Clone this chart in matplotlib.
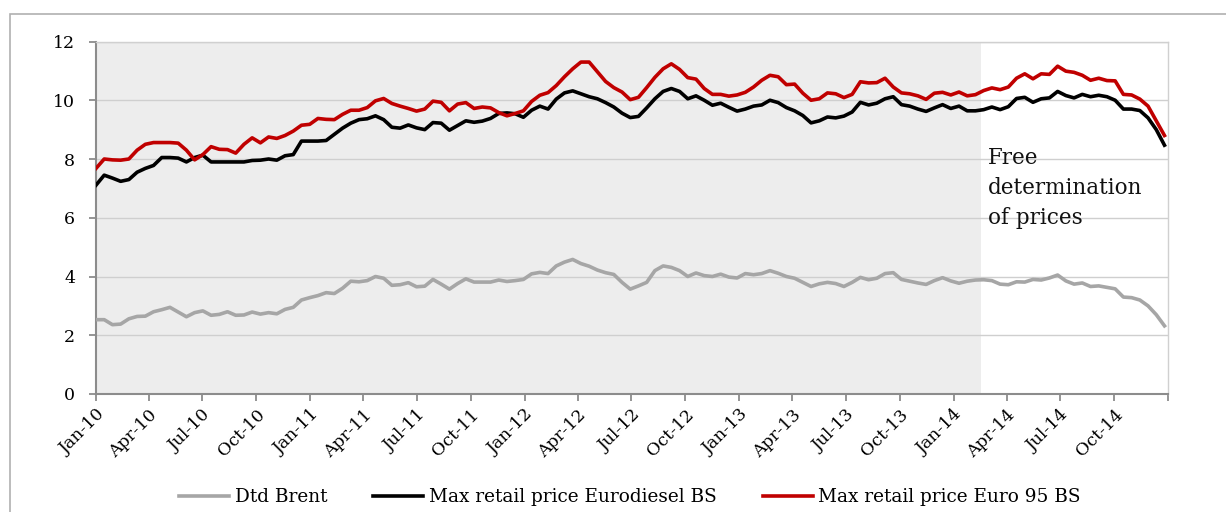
import matplotlib
matplotlib.use("Agg")
import matplotlib.pyplot as plt
from matplotlib.patches import Rectangle
import pandas as pd

# ---------------- data (bi-weekly observations) ----------------
start_date = "2010-01-01"
step = "14D"

brent = [2.53, 2.53, 2.36, 2.38, 2.56, 2.64, 2.65, 2.80, 2.87, 2.95,
         2.79, 2.63, 2.77, 2.83, 2.68, 2.71, 2.80, 2.68, 2.69, 2.79,
         2.72, 2.77, 2.73, 2.88, 2.95, 3.20, 3.28, 3.35, 3.45, 3.42,
         3.60, 3.84, 3.82, 3.86, 4.00, 3.94, 3.70, 3.72, 3.79, 3.65,
         3.67, 3.90, 3.74, 3.57, 3.76, 3.92, 3.81, 3.81, 3.81, 3.88,
         3.83, 3.86, 3.90, 4.09, 4.14, 4.10, 4.36, 4.49, 4.58, 4.44,
         4.35, 4.22, 4.13, 4.07, 3.80, 3.57, 3.68, 3.80, 4.20, 4.36,
         4.31, 4.20, 4.00, 4.12, 4.03, 4.00, 4.08, 3.98, 3.95, 4.10,
         4.06, 4.10, 4.20, 4.11, 4.00, 3.94, 3.80, 3.66, 3.75, 3.80,
         3.76, 3.66, 3.80, 3.97, 3.89, 3.94, 4.10, 4.13, 3.90, 3.84,
         3.78, 3.73, 3.86, 3.96, 3.85, 3.77, 3.84, 3.88, 3.89, 3.86,
         3.74, 3.72, 3.82, 3.81, 3.90, 3.88, 3.95, 4.05, 3.85, 3.74,
         3.78, 3.66, 3.68, 3.63, 3.58, 3.30, 3.28, 3.20, 3.00, 2.70,
         2.32]

diesel = [7.11, 7.45, 7.35, 7.24, 7.30, 7.55, 7.68, 7.78, 8.05, 8.05,
          8.03, 7.90, 8.05, 8.13, 7.90, 7.90, 7.90, 7.90, 7.90, 7.95,
          7.96, 8.00, 7.96, 8.11, 8.15, 8.61, 8.61, 8.61, 8.63, 8.84,
          9.05, 9.22, 9.34, 9.37, 9.47, 9.34, 9.08, 9.05, 9.16, 9.06,
          9.00, 9.24, 9.22, 8.98, 9.14, 9.30, 9.25, 9.29, 9.38, 9.55,
          9.57, 9.54, 9.42, 9.66, 9.80, 9.70, 10.04, 10.25, 10.32, 10.22,
          10.12, 10.05, 9.92, 9.77, 9.56, 9.41, 9.45, 9.74, 10.05, 10.30,
          10.40, 10.30, 10.05, 10.15, 10.00, 9.83, 9.90, 9.76, 9.63, 9.70,
          9.80, 9.84, 10.00, 9.92, 9.75, 9.64, 9.48, 9.23, 9.30, 9.43,
          9.40, 9.46, 9.60, 9.93, 9.84, 9.90, 10.05, 10.12, 9.85, 9.80,
          9.70, 9.62, 9.74, 9.85, 9.72, 9.80, 9.64, 9.64, 9.68, 9.77,
          9.68, 9.78, 10.06, 10.10, 9.93, 10.05, 10.08, 10.30, 10.16, 10.08,
          10.20, 10.12, 10.17, 10.12, 10.00, 9.70, 9.70, 9.65, 9.40, 9.00,
          8.47]

euro95 = [7.68, 8.00, 7.97, 7.96, 8.00, 8.30, 8.50, 8.56, 8.56, 8.56,
          8.54, 8.30, 7.97, 8.15, 8.42, 8.33, 8.32, 8.20, 8.50, 8.72,
          8.55, 8.75, 8.70, 8.80, 8.95, 9.15, 9.18, 9.38, 9.35, 9.34,
          9.52, 9.66, 9.66, 9.75, 9.98, 10.06, 9.89, 9.80, 9.72, 9.63,
          9.70, 9.97, 9.93, 9.64, 9.87, 9.92, 9.72, 9.77, 9.74, 9.58,
          9.47, 9.55, 9.64, 9.96, 10.17, 10.26, 10.50, 10.80, 11.07, 11.30,
          11.30, 10.97, 10.64, 10.43, 10.28, 10.02, 10.10, 10.43, 10.78, 11.07,
          11.24, 11.05, 10.77, 10.72, 10.40, 10.20, 10.20, 10.14, 10.18, 10.27,
          10.45, 10.68, 10.85, 10.80, 10.53, 10.55, 10.24, 10.00, 10.05, 10.25,
          10.22, 10.09, 10.20, 10.63, 10.59, 10.60, 10.75, 10.45, 10.25, 10.22,
          10.15, 10.03, 10.24, 10.27, 10.18, 10.28, 10.15, 10.19, 10.33, 10.42,
          10.36, 10.45, 10.75, 10.90, 10.73, 10.90, 10.88, 11.16, 10.99, 10.95,
          10.85, 10.68, 10.75, 10.67, 10.66, 10.20, 10.18, 10.04, 9.80, 9.30,
          8.80]

series_labels = ["Dtd Brent", "Max retail price Eurodiesel BS", "Max retail price Euro 95 BS"]
regulated_end = "2014-02-17"
annotation = "Free\ndetermination\nof prices"
y_ticks = [0, 2, 4, 6, 8, 10, 12]

dates = pd.date_range(start_date, periods=len(brent), freq=step)

# ---------------- figure ----------------
plt.rcParams['font.family'] = ['DejaVu Serif']
W, H = 1226, 512
fig = plt.figure(figsize=(W / 100, H / 100), dpi=100)
fig.patch.set_facecolor("white")

# outer frame
fig.patches.append(Rectangle((10 / W, -0.05), 1.2, 1 - 14 / H + 0.05,
                             transform=fig.transFigure, fill=False,
                             edgecolor="#b0b0b0", linewidth=1.2))

ax = fig.add_axes([96 / W, 1 - 394 / H, (1168 - 96) / W, (394 - 41.5) / H])
ax.set_facecolor("white")
ax.axvspan(pd.Timestamp(start_date), pd.Timestamp(regulated_end),
           color="#ededed", zorder=0, linewidth=0)

ax.plot(dates, brent, color="#a6a6a6", lw=2.6, label=series_labels[0],
        solid_joinstyle="round", zorder=3)
ax.plot(dates, diesel, color="black", lw=2.6, label=series_labels[1],
        solid_joinstyle="round", zorder=3)
ax.plot(dates, euro95, color="#c00000", lw=2.6, label=series_labels[2],
        solid_joinstyle="round", zorder=3)

ax.set_ylim(0, 12)
ax.set_yticks(y_ticks)
ax.set_yticklabels([str(v) for v in y_ticks])
ax.set_xlim(pd.Timestamp("2010-01-01"), pd.Timestamp("2015-01-01"))

ticks = pd.date_range("2010-01-01", "2015-01-01", freq="QS")
ax.set_xticks(ticks)
ax.set_xticklabels([t.strftime("%b-%y") if t.year < 2015 else "" for t in ticks],
                   rotation=45, ha="right", rotation_mode="anchor")

ax.grid(axis="y", color="#cfcfcf", lw=1.0, zorder=1)
ax.set_axisbelow(True)

for s in ["left", "bottom"]:
    ax.spines[s].set_color("#8c8c8c")
    ax.spines[s].set_linewidth(1.5)
for s in ["top", "right"]:
    ax.spines[s].set_color("#d0d0d0")
    ax.spines[s].set_linewidth(1.0)

ax.tick_params(axis="both", colors="#8c8c8c", length=5, width=1.3,
               labelcolor="black", labelsize=12.5)
ax.tick_params(axis="y", pad=10)
ax.tick_params(axis="x", pad=4)

ax.text(988 / W, 1 - 188 / H, annotation, transform=fig.transFigure,
        fontsize=15.5, va="center", ha="left", linespacing=1.45, color="#111111")

handles, labels = ax.get_legend_handles_labels()
fig.legend(handles, labels, loc="center", ncol=3, frameon=False,
           bbox_to_anchor=(630 / W, 1 - 497 / H), fontsize=13.3,
           handlelength=2.7, handletextpad=0.3, columnspacing=2.5)

fig.savefig("out.png", dpi=100, facecolor="white")
